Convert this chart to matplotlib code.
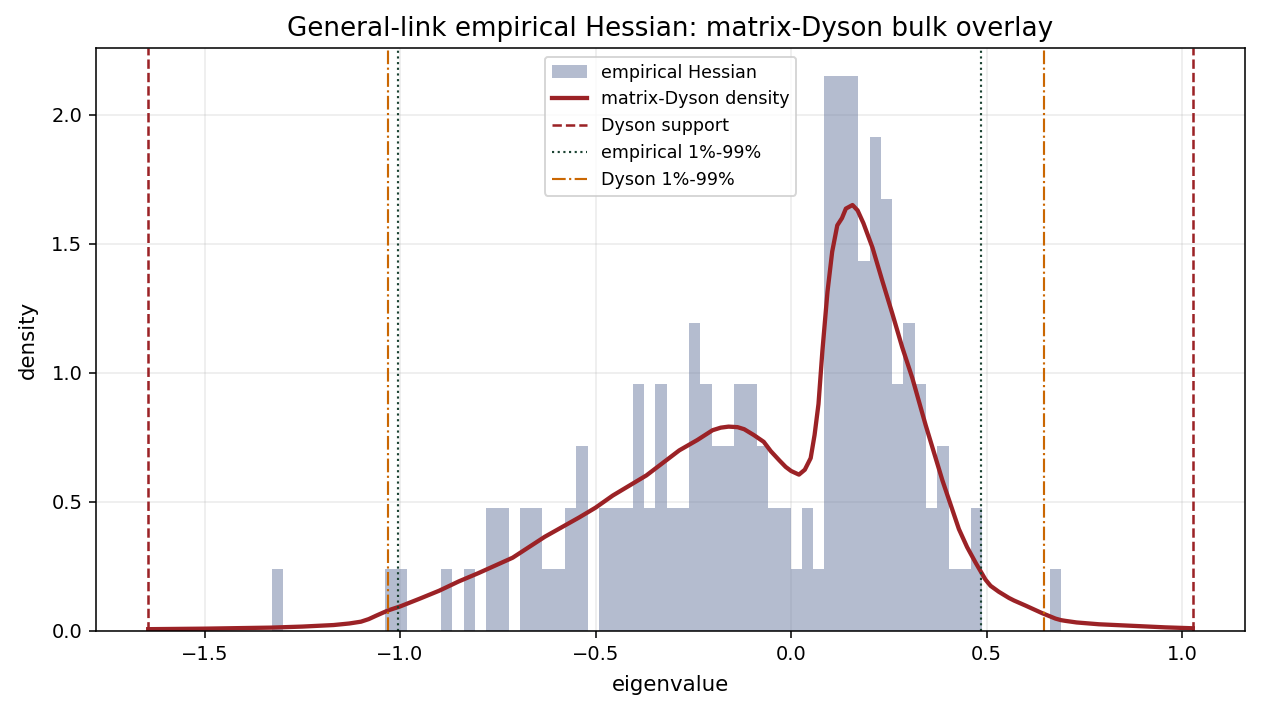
import numpy as np
import matplotlib
matplotlib.use("Agg")
import matplotlib.pyplot as plt

# ------------------------------------------------------------
# Data
# ------------------------------------------------------------
# histogram of empirical eigenvalues: 70 equal bins between hist_lo and hist_hi
hist_lo = -1.328
hist_hi = 0.691
n_bins = 70
bin_counts = [1, 0, 0, 0, 0, 0, 0, 0, 0, 0,
              1, 1, 0, 0, 0, 1, 0, 1, 0, 2,
              2, 0, 2, 2, 1, 1, 2, 3, 0, 2,
              2, 2, 4, 2, 4, 2, 2, 5, 4, 3,
              3, 4, 4, 3, 2, 2, 1, 2, 1, 9,
              9, 9, 6, 8, 7, 4, 5, 4, 2, 3,
              1, 1, 2, 0, 0, 0, 0, 0, 0, 1]

# matrix-Dyson density curve
dyson_x = [-1.644, -1.50, -1.33, -1.25, -1.17, -1.13, -1.10, -1.08, -1.06, -1.03,
           -1.00, -0.95, -0.90, -0.85, -0.80, -0.712, -0.63, -0.542, -0.50, -0.456,
           -0.37, -0.286, -0.24, -0.201, -0.18, -0.16, -0.137, -0.12, -0.095, -0.07,
           -0.052, -0.03, -0.014, 0.00, 0.02, 0.035, 0.05, 0.06, 0.07, 0.08,
           0.093, 0.105, 0.118, 0.13, 0.14, 0.157, 0.17, 0.185, 0.208, 0.233,
           0.259, 0.284, 0.31, 0.344, 0.387, 0.429, 0.45, 0.472, 0.497, 0.51,
           0.531, 0.557, 0.57, 0.60, 0.642, 0.65, 0.676, 0.69, 0.702, 0.73,
           0.787, 0.872, 0.957, 1.027]
dyson_y = [0.007, 0.009, 0.013, 0.017, 0.023, 0.029, 0.036, 0.046, 0.060, 0.080,
           0.095, 0.125, 0.156, 0.192, 0.224, 0.284, 0.365, 0.440, 0.478, 0.525,
           0.603, 0.700, 0.740, 0.778, 0.788, 0.792, 0.790, 0.782, 0.759, 0.733,
           0.697, 0.661, 0.636, 0.620, 0.606, 0.625, 0.670, 0.760, 0.880, 1.086,
           1.315, 1.470, 1.572, 1.600, 1.637, 1.651, 1.630, 1.580, 1.486, 1.358,
           1.229, 1.100, 0.980, 0.798, 0.583, 0.395, 0.325, 0.264, 0.199, 0.175,
           0.152, 0.128, 0.118, 0.098, 0.069, 0.064, 0.048, 0.042, 0.039, 0.033,
           0.026, 0.020, 0.014, 0.0105]

dyson_support = [-1.644, 1.027]
emp_quantiles = [-1.004, 0.485]
dyson_quantiles = [-1.032, 0.646]

# ------------------------------------------------------------
# Plot
# ------------------------------------------------------------
fig = plt.figure(figsize=(1261 / 140, 712 / 140), dpi=140)
ax = fig.add_axes([0.0761, 0.1138, 0.9112, 0.8188])

edges = np.linspace(hist_lo, hist_hi, n_bins + 1)
centers = 0.5 * (edges[:-1] + edges[1:])
ax.hist(centers, bins=edges, weights=bin_counts, density=True,
        color="#6b7ba0", alpha=0.5, label="empirical Hessian")

ax.plot(dyson_x, dyson_y, color="#9b2226", lw=2.2, label="matrix-Dyson density")

for i, v in enumerate(dyson_support):
    ax.axvline(v, color="#9b2226", ls="--", lw=1.3,
               label="Dyson support" if i == 0 else None)
for i, v in enumerate(emp_quantiles):
    ax.axvline(v, color="#1b4332", ls=":", lw=1.1,
               label="empirical 1%-99%" if i == 0 else None)
for i, v in enumerate(dyson_quantiles):
    ax.axvline(v, color="#ca6702", ls="-.", lw=1.1,
               label="Dyson 1%-99%" if i == 0 else None)

ax.grid(True, alpha=0.25)
ax.set_axisbelow(True)
ax.set_xlabel("eigenvalue", fontsize=11, labelpad=6)
ax.set_ylabel("density", fontsize=11, labelpad=7)
ax.set_title("General-link empirical Hessian: matrix-Dyson bulk overlay", fontsize=13.5)
ax.legend(loc="upper center", fontsize=9)

fig.savefig("out.png", dpi=140)
